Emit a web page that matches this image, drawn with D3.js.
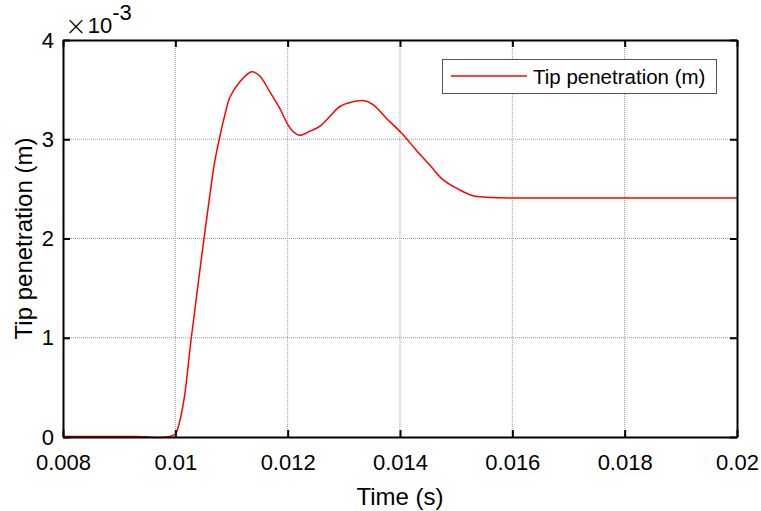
<!DOCTYPE html>
<html><head><meta charset="utf-8">
<script src="https://cdn.jsdelivr.net/npm/d3@7"></script>
<style>
body{margin:0;background:#fff;}
svg{display:block;font-family:"Liberation Sans",Arial,sans-serif;}
</style></head>
<body>
<svg id="chart" width="761" height="511"></svg>
<script>
// Time (s)
const timeValues = [0.008, 0.0085, 0.009, 0.0093, 0.0095, 0.0097, 0.0099, 0.01, 0.01007, 0.01016,
  0.01028, 0.01043, 0.01061, 0.0107, 0.01079, 0.01088, 0.01097, 0.01115,
  0.01136, 0.0115, 0.01168, 0.01186, 0.012, 0.01209, 0.01221, 0.01239, 0.01257, 0.01275,
  0.01293, 0.01311, 0.01334, 0.01352, 0.01376, 0.01403, 0.01429, 0.01453, 0.01477, 0.01506,
  0.0153, 0.01554, 0.01578, 0.016, 0.018, 0.02];
// Tip penetration (x 1e-3 m)
const tipPenetration = [0.006, 0.006, 0.006, 0.005, 0.002, -0.006, 0.006, 0.03, 0.14, 0.40,
  0.98, 1.65, 2.42, 2.77, 3.02, 3.24, 3.42, 3.58,
  3.68, 3.64, 3.48, 3.31, 3.15, 3.08, 3.04, 3.08, 3.13, 3.23,
  3.33, 3.37, 3.39, 3.35, 3.21, 3.06, 2.89, 2.74, 2.59, 2.49,
  2.43, 2.415, 2.41, 2.408, 2.408, 2.408];
const xTickValues = [0.008, 0.01, 0.012, 0.014, 0.016, 0.018, 0.02];
const xTickLabels = ["0.008", "0.01", "0.012", "0.014", "0.016", "0.018", "0.02"];
const yTickValues = [0, 1, 2, 3, 4];
const yTickLabels = ["0", "1", "2", "3", "4"];
const seriesName = "Tip penetration (m)";
const xTitle = "Time (s)";
const yTitle = "Tip penetration (m)";

const svg = d3.select("#chart");
const L = 63, R = 737, T = 40, B = 437;
const x = d3.scaleLinear().domain([0.008, 0.02]).range([L, R]);
const y = d3.scaleLinear().domain([0, 4]).range([B, T]);

// grid
const grid = svg.append("g");
grid.selectAll(".gx").data(xTickValues.slice(1, -1)).join("line")
  .attr("x1", d => x(d)).attr("x2", d => x(d)).attr("y1", T).attr("y2", B)
  .attr("stroke", "#999").attr("stroke-width", 1).attr("stroke-dasharray", "1,1");
grid.selectAll(".gy").data(yTickValues.slice(1, -1)).join("line")
  .attr("y1", d => y(d)).attr("y2", d => y(d)).attr("x1", L).attr("x2", R)
  .attr("stroke", "#999").attr("stroke-width", 1).attr("stroke-dasharray", "1,1");

// line
const data = timeValues.map((t, i) => [t, tipPenetration[i]]);
svg.append("path").datum(data)
  .attr("fill", "none").attr("stroke", "#ff0000").attr("stroke-width", 1.5)
  .attr("d", d3.line().x(d => x(d[0])).y(d => y(d[1])).curve(d3.curveCatmullRom.alpha(0.5)));

// axes
const fmtX = (d, i) => xTickLabels[i];
const fmtY = (d, i) => yTickLabels[i];
const gB = svg.append("g").attr("transform", `translate(0,${B})`)
  .call(d3.axisBottom(x).tickValues(xTickValues).tickFormat(fmtX).tickSizeInner(-7).tickSizeOuter(0).tickPadding(17));
const gL = svg.append("g").attr("transform", `translate(${L},0)`)
  .call(d3.axisLeft(y).tickValues(yTickValues).tickFormat(fmtY).tickSizeInner(-7).tickSizeOuter(0).tickPadding(9));
const gT = svg.append("g").attr("transform", `translate(0,${T})`)
  .call(d3.axisTop(x).tickValues(xTickValues).tickFormat("").tickSizeInner(-7).tickSizeOuter(0));
const gR = svg.append("g").attr("transform", `translate(${R},0)`)
  .call(d3.axisRight(y).tickValues(yTickValues).tickFormat("").tickSizeInner(-7).tickSizeOuter(0));
[gB, gL, gT, gR].forEach(g => {
  g.selectAll(".domain").attr("stroke", "#000").attr("stroke-width", 2);
  g.selectAll(".tick line").attr("stroke", "#000").attr("stroke-width", 2);
  g.selectAll(".tick text").attr("fill", "#000").style("font-size", "22px")
    .style("font-family", "'Liberation Sans', Arial, sans-serif");
});

// exponent label
const ex = svg.append("text").attr("x", 65).attr("y", 33).attr("fill", "#000")
  .style("font-size", "22px");
ex.append("tspan").attr("dy", 2).style("font-size", "26px").style("font-family", "'DejaVu Sans', sans-serif")
  .style("font-weight", "200").text("\u00d7");
ex.append("tspan").attr("dy", -2).attr("dx", 1).text("10");
ex.append("tspan").attr("dy", -13).text("-3");

// axis titles
svg.append("text").attr("x", (L + R) / 2).attr("y", 505).attr("text-anchor", "middle")
  .style("font-size", "24px").attr("fill", "#000").text(xTitle);
svg.append("text").attr("transform", `translate(32,${(T + B) / 2}) rotate(-90)`)
  .attr("text-anchor", "middle").style("font-size", "24px").attr("fill", "#000").text(yTitle);

// legend
const lg = svg.append("g");
lg.append("rect").attr("x", 442.5).attr("y", 59.5).attr("width", 274).attr("height", 34)
  .attr("fill", "#fff").attr("stroke", "#555").attr("stroke-width", 1);
lg.append("line").attr("x1", 451).attr("x2", 527).attr("y1", 76).attr("y2", 76)
  .attr("stroke", "#ff0000").attr("stroke-width", 1.5);
lg.append("text").attr("x", 533).attr("y", 84).style("font-size", "20.5px").attr("fill", "#000")
  .text(seriesName);
</script>
</body></html>
